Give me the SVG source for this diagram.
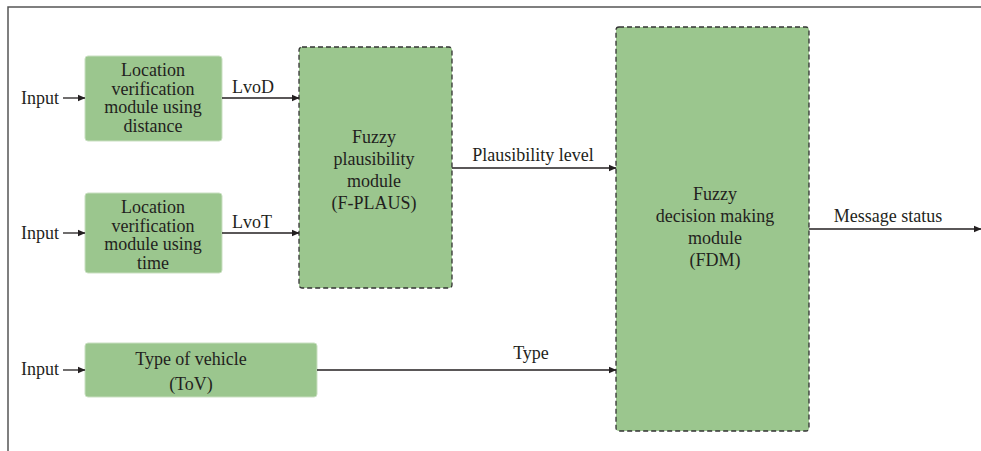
<svg xmlns="http://www.w3.org/2000/svg" width="981" height="451" viewBox="0 0 981 451" font-family="'Liberation Serif', 'DejaVu Serif', serif">
<defs>
<marker id="ah" markerWidth="8" markerHeight="8" refX="7" refY="4" orient="auto" markerUnits="userSpaceOnUse">
<path d="M0,0.8 L7.5,4 L0,7.2 Z" fill="#231f20"/>
</marker>
</defs>
<style>
text{font-family:'Liberation Serif',serif;font-size:18px;fill:#231f20}
.c{text-anchor:middle}
.box{fill:#9bc68e;stroke:#c9dfc1;stroke-width:1}
.dash{fill:#9bc68e;stroke:#333;stroke-width:1.3;stroke-dasharray:5 3}
.ln{stroke:#231f20;stroke-width:1.3;fill:none;marker-end:url(#ah)}
</style>
<rect width="981" height="451" fill="#fff"/>
<path d="M8,451 V7 H981" fill="none" stroke="#555" stroke-width="1.5"/>
<g id="lvod">
<rect class="box" x="85" y="56" width="137" height="85" rx="3"/>
<text class="c" x="153" y="76">Location</text>
<text class="c" x="153" y="94.5">verification</text>
<text class="c" x="153" y="113">module using</text>
<text class="c" x="153" y="131.5">distance</text>
</g>
<g id="lvot">
<rect class="box" x="85" y="193" width="137" height="80" rx="3"/>
<text class="c" x="153" y="213">Location</text>
<text class="c" x="153" y="231.5">verification</text>
<text class="c" x="153" y="250">module using</text>
<text class="c" x="153" y="268.5">time</text>
</g>
<g id="tov">
<rect class="box" x="85" y="343" width="232" height="54" rx="3"/>
<text class="c" x="191" y="365">Type of vehicle</text>
<text class="c" x="191" y="390">(ToV)</text>
</g>
<g id="fplaus">
<rect class="dash" x="299" y="47" width="153" height="241" rx="3"/>
<text class="c" x="374" y="143">Fuzzy</text>
<text class="c" x="374" y="165">plausibility</text>
<text class="c" x="374" y="187">module</text>
<text class="c" x="374" y="209">(F-PLAUS)</text>
</g>
<g id="fdm">
<rect class="dash" x="616" y="27" width="193" height="404" rx="3"/>
<text class="c" x="715" y="200">Fuzzy</text>
<text class="c" x="715" y="222">decision making</text>
<text class="c" x="715" y="244">module</text>
<text class="c" x="715" y="266">(FDM)</text>
</g>
<g id="connectors">
<text x="21" y="104">Input</text>
<text x="21" y="239">Input</text>
<text x="21" y="375">Input</text>
<path class="ln" d="M63,98 H85"/>
<path class="ln" d="M63,233 H85"/>
<path class="ln" d="M63,370 H85"/>
<path class="ln" d="M222,98 H299"/>
<text x="232" y="93">LvoD</text>
<path class="ln" d="M222,233 H299"/>
<text x="232" y="228">LvoT</text>
<path class="ln" d="M452,168 H616"/>
<text class="c" x="533" y="161">Plausibility level</text>
<path class="ln" d="M317,370 H616"/>
<text class="c" x="531" y="359">Type</text>
<path class="ln" d="M809,229 H981"/>
<text class="c" x="888" y="222">Message status</text>
</g>
</svg>
